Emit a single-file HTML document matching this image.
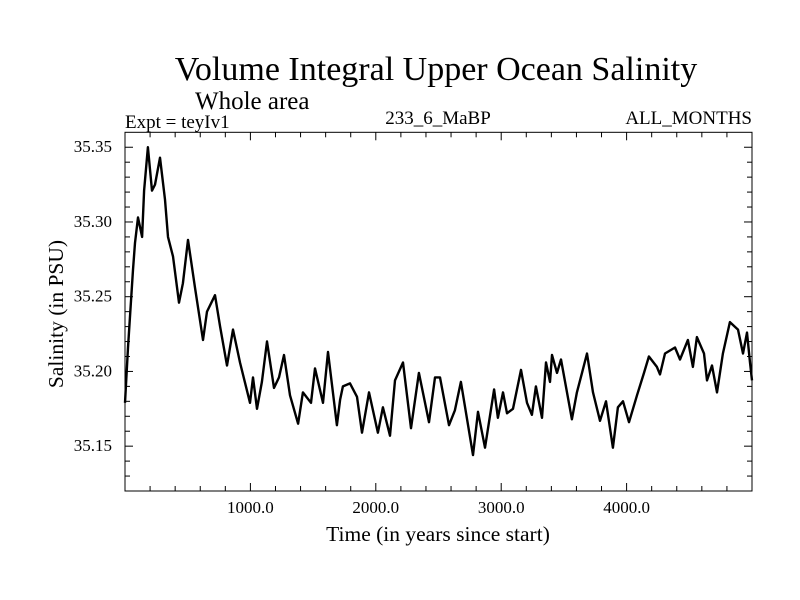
<!DOCTYPE html>
<html><head><meta charset="utf-8"><style>
body{margin:0;background:#fff}
svg{display:block}
text{font-family:"Liberation Serif",serif;fill:#000}
</style></head><body>
<svg id="chart" width="800" height="600" viewBox="0 0 800 600">
<rect width="800" height="600" fill="#fff"/>
<text x="436" y="80" font-size="34" text-anchor="middle">Volume Integral Upper Ocean Salinity</text>
<text x="195" y="109" font-size="25">Whole area</text>
<text x="125" y="128" font-size="19">Expt = teyIv1</text>
<text x="438" y="124" font-size="19" text-anchor="middle">233_6_MaBP</text>
<text x="752" y="124" font-size="19" text-anchor="end">ALL_MONTHS</text>
<text x="438" y="541" font-size="21.5" text-anchor="middle">Time (in years since start)</text>
<text transform="translate(63,314) rotate(-90)" font-size="21.5" text-anchor="middle">Salinity (in PSU)</text>
<g id="axes"></g>
<path id="series" fill="none" stroke="#000" stroke-width="2.4" stroke-linejoin="round"/>
<rect x="125" y="132.3" width="627" height="358.7" fill="none" stroke="#000" stroke-width="1"/>
</svg>
<script>
const years=[0,24,64,80,104,136,152,183,215,239,279,319,343,383,431,462,502,558,622,654,718,758,813,861,917,997,1021,1053,1092,1132,1188,1228,1268,1316,1380,1419,1483,1515,1579,1619,1690,1715,1738,1794,1850,1890,1946,2017,2057,2113,2153,2217,2281,2344,2424,2472,2512,2584,2631,2679,2775,2815,2871,2943,2974,3014,3046,3094,3158,3206,3245,3277,3325,3357,3389,3405,3445,3477,3564,3604,3644,3684,3732,3788,3836,3891,3931,3971,4019,4083,4139,4178,4242,4266,4306,4386,4426,4489,4529,4561,4617,4641,4681,4721,4768,4824,4888,4928,4960,4984,5000];
const salinity=[35.179,35.216,35.268,35.286,35.303,35.290,35.321,35.350,35.321,35.325,35.343,35.315,35.290,35.277,35.246,35.259,35.288,35.256,35.221,35.240,35.251,35.230,35.204,35.228,35.206,35.179,35.196,35.175,35.193,35.220,35.189,35.196,35.211,35.184,35.165,35.186,35.179,35.202,35.179,35.213,35.164,35.181,35.190,35.192,35.183,35.159,35.186,35.159,35.176,35.157,35.194,35.206,35.162,35.199,35.166,35.196,35.196,35.164,35.174,35.193,35.144,35.173,35.149,35.188,35.169,35.186,35.172,35.175,35.201,35.179,35.171,35.190,35.169,35.206,35.193,35.211,35.199,35.208,35.168,35.186,35.199,35.212,35.186,35.167,35.180,35.149,35.176,35.180,35.166,35.184,35.199,35.210,35.203,35.198,35.212,35.216,35.208,35.221,35.203,35.223,35.212,35.194,35.204,35.186,35.212,35.233,35.228,35.212,35.226,35.206,35.194];
const xTickValues=[1000,2000,3000,4000];
const xTickLabels=["1000.0","2000.0","3000.0","4000.0"];
const yTickValues=[35.15,35.20,35.25,35.30,35.35];
const yTickLabels=["35.15","35.20","35.25","35.30","35.35"];
const X0=125,X1=752,Y0=491,Y1=132.3,XMIN=0,XMAX=5000,YMIN=35.12,YMAX=35.36;
function sx(v){return X0+(v-XMIN)/(XMAX-XMIN)*(X1-X0);}
function sy(v){return Y0-(v-YMIN)/(YMAX-YMIN)*(Y0-Y1);}
const NS="http://www.w3.org/2000/svg";
const axes=document.getElementById('axes');
function line(x1,y1,x2,y2,name){const l=document.createElementNS(NS,'line');l.setAttribute('x1',x1);l.setAttribute('y1',y1);l.setAttribute('x2',x2);l.setAttribute('y2',y2);l.setAttribute('stroke','#000');l.setAttribute('stroke-width','1');


axes.appendChild(l);}
function txt(x,y,s,anchor,name){const t=document.createElementNS(NS,'text');t.setAttribute('x',x);t.setAttribute('y',y);t.setAttribute('font-size','17');t.setAttribute('text-anchor',anchor);t.textContent=s;


axes.appendChild(t);}
for(let v=200;v<XMAX;v+=200){const x=sx(v);const major=v%1000===0;const L=major?8:5;line(x,Y0,x,Y0-L,'x-tick');line(x,Y1,x,Y1+L,'x-tick-top');}
for(let i=0;i<xTickValues.length;i++)txt(sx(xTickValues[i]),513,xTickLabels[i],'middle','x-tick-label');
for(let k=13;k<36;k++){const v=35+k/100;const y=sy(v);const major=k%5===0;const L=major?8:5;line(X0,y,X0+L,y,'y-tick');line(X1,y,X1-L,y,'y-tick-right');}
for(let i=0;i<yTickValues.length;i++)txt(112,sy(yTickValues[i])+5,yTickLabels[i],'end','y-tick-label');
let d='';for(let i=0;i<years.length;i++){d+=(i?'L':'M')+sx(years[i]).toFixed(1)+','+sy(salinity[i]).toFixed(1);}
document.getElementById('series').setAttribute('d',d);
</script>
</body></html>
